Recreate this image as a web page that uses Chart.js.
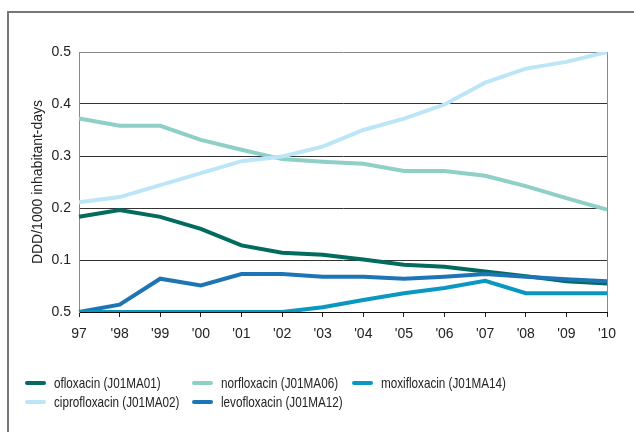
<!DOCTYPE html>
<html>
<head>
<meta charset="utf-8">
<script src="https://cdn.jsdelivr.net/npm/chart.js@4/dist/chart.umd.min.js"></script>
<style>
  body { margin: 0; background: #fff; }
  #wrap { position: relative; width: 634px; height: 432px; overflow: hidden; }
  #frame { position: absolute; left: 7px; top: 11px; width: 700px; height: 500px;
           border-top: 2px solid #777; border-left: 2px solid #777; }
  #c { position: absolute; left: 0; top: 0; }
  #legend { position: absolute; left: 25px; top: 374px; font: 15px "Liberation Sans", Arial, sans-serif; color: #222; }
  .item { position: absolute; white-space: nowrap; height: 18px; line-height: 18px; }
  .swatch { display: inline-block; width: 21px; height: 4px; border-radius: 2px; vertical-align: middle; margin-right: 8px; position: relative; top: -1px; }
  .txt { display: inline-block; transform: scaleX(0.78); transform-origin: left center; }
</style>
</head>
<body>
<div id="wrap">
  <div id="frame"></div>
  <canvas id="c" width="634" height="432"></canvas>
  <div id="legend"></div>
</div>
<script>
// years on the x axis
const years = ['97', "'98", "'99", "'00", "'01", "'02", "'03", "'04", "'05", "'06", "'07", "'08", "'09", "'10"];

// y tick labels as printed (bottom one reads 0.5 in the source)
const yTickLabels = ['0.5', '0.1', '0.2', '0.3', '0.4', '0.5'];

const ofloxacin     = [0.183, 0.196, 0.183, 0.160, 0.128, 0.114, 0.110, 0.101, 0.091, 0.087, 0.078, 0.069, 0.059, 0.055];
const ciprofloxacin = [0.211, 0.221, 0.244, 0.267, 0.290, 0.299, 0.318, 0.350, 0.372, 0.399, 0.441, 0.468, 0.481, 0.500];
const norfloxacin   = [0.372, 0.358, 0.358, 0.331, 0.312, 0.294, 0.289, 0.285, 0.271, 0.271, 0.262, 0.242, 0.219, 0.197];
const levofloxacin  = [0.000, 0.014, 0.064, 0.051, 0.073, 0.073, 0.068, 0.068, 0.064, 0.068, 0.073, 0.068, 0.063, 0.059];
const moxifloxacin  = [0.000, 0.000, 0.000, 0.000, 0.000, 0.000, 0.009, 0.023, 0.036, 0.046, 0.060, 0.036, 0.036, 0.036];

const seriesNames  = ['ofloxacin (J01MA01)', 'ciprofloxacin (J01MA02)', 'norfloxacin (J01MA06)', 'levofloxacin (J01MA12)', 'moxifloxacin (J01MA14)'];
const seriesData   = [ofloxacin, ciprofloxacin, norfloxacin, levofloxacin, moxifloxacin];
const seriesColors = ['#006b5e', '#bde5f8', '#8ecfc6', '#1e75b6', '#0a98c2'];
const drawOrder    = [3, 2, 4, 1, 0];

const fontFamily = '"Liberation Sans", Arial, sans-serif';

const datasets = seriesNames.map((name, i) => ({
    label: name,
    data: seriesData[i],
    borderColor: seriesColors[i],
    backgroundColor: seriesColors[i],
    borderWidth: 4,
    pointRadius: 0,
    tension: 0,
    fill: false,
    order: drawOrder[i]
}));

const ctx = document.getElementById('c').getContext('2d');
const chart = new Chart(ctx, {
    type: 'line',
    data: { labels: years, datasets: datasets },
    options: {
        responsive: false,
        animation: false,
        devicePixelRatio: 1,
        layout: { padding: { left: 0, top: 52, right: 27, bottom: 0 } },
        plugins: {
            legend: { display: false },
            tooltip: { enabled: false }
        },
        scales: {
            x: {
                offset: false,
                afterFit: (scale) => { scale.height = 120; },
                grid: {
                    drawOnChartArea: true,
                    color: (c) => c.index === years.length - 1 ? '#888' : 'rgba(0,0,0,0)',
                    tickColor: '#222',
                    tickLength: 5,
                    lineWidth: 1
                },
                border: { display: true, color: '#111', width: 1 },
                ticks: {
                    color: '#222',
                    font: { family: fontFamily, size: 14 },
                    padding: 9,
                    maxRotation: 0,
                    autoSkip: false
                }
            },
            y: {
                min: 0,
                max: 0.5,
                afterFit: (scale) => { scale.width = 79; },
                grid: {
                    drawTicks: false,
                    color: (c) => c.tick.value >= 0.49 ? '#888' : '#333',
                    lineWidth: 1
                },
                border: { display: true, color: '#888', width: 1 },
                ticks: {
                    stepSize: 0.1,
                    color: '#222',
                    padding: 8,
                    font: { family: fontFamily, size: 14 },
                    callback: (v, i) => yTickLabels[i]
                },
                title: {
                    display: true,
                    text: 'DDD/1000 inhabitant-days',
                    color: '#222',
                    font: { family: fontFamily, size: 14 },
                    padding: { top: 30, bottom: 0 }
                }
            }
        }
    }
});

// legend laid out in columns of two rows, like the source
const legendBox = document.getElementById('legend');
const colX = [0, 167, 327];
datasets.forEach((ds, i) => {
    const item = document.createElement('div');
    item.className = 'item';
    item.style.left = colX[Math.floor(i / 2)] + 'px';
    item.style.top = (i % 2) * 19 + 'px';
    item.innerHTML = `<span class="swatch" style="background:${ds.borderColor}"></span><span class="txt">${ds.label}</span>`;
    legendBox.appendChild(item);
});
</script>
</body>
</html>
